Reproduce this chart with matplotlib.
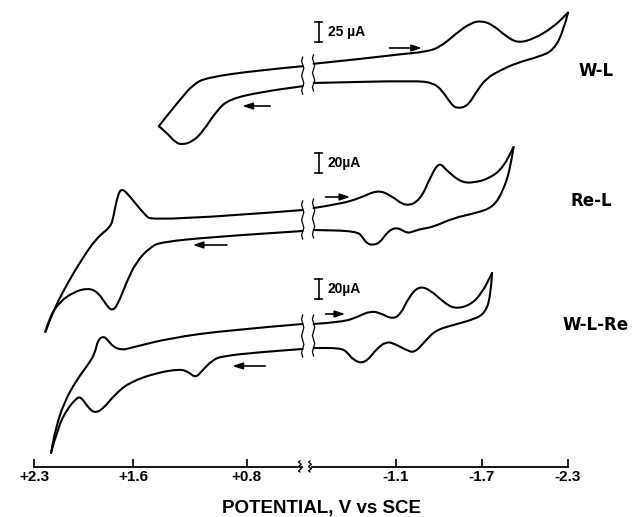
import numpy as np
import matplotlib
matplotlib.use('Agg')
from matplotlib import pyplot as plt
from matplotlib.path import Path
from matplotlib.patches import PathPatch

plt.rcParams['font.family'] = ['Liberation Sans', 'DejaVu Sans']

# cyclic voltammograms, potential in V vs SCE, current in uA
# each scan is split at the axis break: left = positive side, right = negative side
wl_left_E = [0.405, 0.71, 1.08, 1.18, 1.27, 1.34, 1.42, 1.37, 1.30, 1.25, 1.18, 1.11, 1.01, 0.92, 0.69, 0.405]
wl_left_I = [11, 6, -3, -12, -31, -46, -64, -71, -85, -87, -83, -71, -44, -30, -21, -14]
wl_right_E = [-0.525, -0.90, -1.13, -1.31, -1.41, -1.52, -1.62, -1.70, -1.78, -1.87, -1.95, -2.06, -2.20, -2.30,
              -2.27, -2.20, -2.10, -1.94, -1.83, -1.73, -1.66, -1.60, -1.52, -1.48, -1.42, -1.36, -1.24, -0.525]
wl_right_I = [14, 21, 26, 29, 35, 52, 65, 68, 62, 48, 40, 45, 60, 78,
              56, 31, 23, 15, 6, -4, -21, -39, -42, -35, -19, -10, -7, -10]

rel_left_E = [0.405, 1.46, 1.53, 1.62, 1.68, 1.71, 1.74, 1.76, 1.86, 1.98, 2.09, 2.16, 2.22,
              2.19, 2.12, 2.02, 1.92, 1.85, 1.79, 1.75, 1.71, 1.65, 1.58, 1.48, 1.40, 1.04, 0.405]
rel_left_I = [10, -2, 7, 23, 32, 25, 3, -7, -18, -43, -70, -90, -112,
              -97, -82, -72, -68, -72, -85, -91, -85, -63, -42, -27, -22, -17, -11]
rel_right_E = [-0.525, -0.71, -0.85, -0.97, -1.06, -1.17, -1.27, -1.34, -1.40, -1.45, -1.55, -1.64, -1.76, -1.85, -1.92,
               -1.90, -1.85, -1.78, -1.66, -1.50, -1.36, -1.27, -1.21, -1.18, -1.14, -1.11, -1.07, -1.03, -0.99,
               -0.95, -0.90, -0.87, -0.83, -0.525]
rel_right_I = [12, 16, 22, 30, 25, 13, 20, 43, 58, 50, 38, 37, 42, 53, 73,
               53, 30, 13, 7, 2, -7, -9, -12, -13, -10, -8, -9, -14, -22,
               -25, -24, -18, -11, -10]

wlre_left_E = [0.405, 0.92, 1.34, 1.62, 1.68, 1.74, 1.78, 1.81, 1.85, 1.87, 1.91, 2.00, 2.09, 2.15, 2.18,
               2.13, 2.07, 2.00, 1.97, 1.93, 1.88, 1.82, 1.72, 1.62, 1.44, 1.27, 1.21, 1.16, 1.11, 1.04, 0.97, 0.69, 0.405]
wlre_left_I = [12, 6, -2, -12, -14, -11, -4, 0, -4, -17, -27, -44, -67, -94, -117,
               -91, -74, -62, -61, -69, -77, -74, -57, -46, -37, -33, -36, -42, -34, -24, -20, -16, -13]
wlre_right_E = [-0.525, -0.73, -0.83, -0.92, -0.99, -1.07, -1.13, -1.19, -1.26, -1.34, -1.43, -1.51, -1.62, -1.70, -1.77,
                -1.76, -1.72, -1.65, -1.50, -1.38, -1.31, -1.23, -1.17, -1.08, -1.03, -0.97, -0.88, -0.80, -0.76, -0.71, -0.525]
wlre_right_I = [12, 14, 19, 25, 23, 17, 21, 39, 50, 46, 34, 27, 31, 43, 63,
                39, 23, 17, 11, 6, -4, -17, -14, -7, -6, -12, -28, -24, -16, -12, -12]

names = ['W-L', 'Re-L', 'W-L-Re']
scale_uA = [25, 20, 20]

left_ticks = [2.3, 1.6, 0.8]
left_labels = ['+2.3', '+1.6', '+0.8']
right_ticks = [-1.1, -1.7, -2.3]
right_labels = ['-1.1', '-1.7', '-2.3']

# drawing layout (vertical stacking of the three scans)
offsets = [392, 247, 131]
gains = [0.8, 1.0, 1.0]
bar_y = [33, 47, 37]
label_pos = [(-2.37, 4), (-2.315, 19), (-2.265, 11.5)]
arrow_r = [(-1.035, -1.30, 27), (-0.59, -0.80, 23), (-0.59, -0.765, 22)]
arrow_l = [(0.615, 0.85, -31), (0.92, 1.20, -25), (0.65, 0.92, -30)]

fig = plt.figure(figsize=(6.38, 5.17), dpi=100)
axL = fig.add_axes([34 / 638, 50 / 517, 268 / 638, 467 / 517])
axR = fig.add_axes([312 / 638, 50 / 517, 256 / 638, 467 / 517])
axL.set_xlim(2.3, 0.41)
axR.set_xlim(-0.514, -2.3)
for ax in (axL, axR):
    ax.set_ylim(0, 467)
    ax.patch.set_visible(False)
    for s in ('top', 'left', 'right'):
        ax.spines[s].set_visible(False)
    ax.spines['bottom'].set_linewidth(1.3)
    ax.set_yticks([])
    ax.tick_params(axis='x', direction='in', length=6, width=1.2, pad=2, labelsize=11)
axL.set_xticks(left_ticks)
axL.set_xticklabels(left_labels, fontweight='bold')
axR.set_xticks(right_ticks)
axR.set_xticklabels(right_labels, fontweight='bold')


def smooth_curve(ax, xs, ys):
    # quadratic bezier through midpoints, read points act as control points
    pts = np.column_stack([xs, ys])
    verts = [pts[0]]
    codes = [Path.MOVETO]
    for i in range(1, len(pts) - 1):
        verts += [pts[i], (pts[i] + pts[i + 1]) / 2]
        codes += [Path.CURVE3, Path.CURVE3]
    verts.append(pts[-1])
    codes.append(Path.LINETO)
    ax.add_patch(PathPatch(Path(verts, codes), fill=False, edgecolor='black', lw=1.5,
                           joinstyle='round', capstyle='round', clip_on=False))


def draw_scan(ax, xs, ys, left):
    # keep the switching point sharp
    tip = int(np.argmax(xs)) if left else int(np.argmin(xs))
    smooth_curve(ax, xs[:tip + 1], ys[:tip + 1])
    smooth_curve(ax, xs[tip:], ys[tip:])


def wiggle(ax, x, y0, y1, amp=0.008):
    ys = np.linspace(y0, y1, 11)
    xs = x + amp * np.array([0, 1, 0, -1, 0, 1, 0, -1, 0, 1, 0])
    ax.plot(xs, ys, color='black', lw=0.9, clip_on=False)


traces = [(wl_left_E, wl_left_I, wl_right_E, wl_right_I),
          (rel_left_E, rel_left_I, rel_right_E, rel_right_I),
          (wlre_left_E, wlre_left_I, wlre_right_E, wlre_right_I)]

for k, (eL, iL, eR, iR) in enumerate(traces):
    off, g = offsets[k], gains[k]
    yL = off + g * np.array(iL)
    yR = off + g * np.array(iR)
    draw_scan(axL, np.array(eL), yL, True)
    draw_scan(axR, np.array(eR), yR, False)
    # break marks across the two branches
    wiggle(axL, eL[0], max(yL[0], yL[-1]) + 9, min(yL[0], yL[-1]) - 8)
    wiggle(axR, eR[0], max(yR[0], yR[-1]) + 9, min(yR[0], yR[-1]) - 8)
    # current scale bar
    b0 = off + bar_y[k]
    b1 = b0 + g * scale_uA[k]
    axR.plot([-0.56, -0.56], [b0, b1], color='black', lw=1.2)
    axR.plot([-0.535, -0.585], [b0, b0], color='black', lw=1.2)
    axR.plot([-0.535, -0.585], [b1, b1], color='black', lw=1.2)
    axR.text(-0.625, (b0 + b1) / 2, '%d µA' % scale_uA[k] if k == 0 else '%dµA' % scale_uA[k],
             ha='left', va='center', fontsize=10, fontweight='bold')
    # scan direction arrows
    a0, a1, ay = arrow_r[k]
    axR.annotate('', xy=(a1, off + ay), xytext=(a0, off + ay),
                 arrowprops=dict(arrowstyle='-|>,head_length=0.6,head_width=0.2', lw=1.2, color='black'))
    a0, a1, ay = arrow_l[k]
    axL.annotate('', xy=(a1, off + ay), xytext=(a0, off + ay),
                 arrowprops=dict(arrowstyle='-|>,head_length=0.6,head_width=0.2', lw=1.2, color='black'))
    lx, ly = label_pos[k]
    axR.text(lx, off + ly, names[k], ha='left', va='center', fontsize=12,
             fontweight='bold', family='DejaVu Sans', clip_on=False)

# break on the potential axis
wiggle(axL, 0.425, 6, -5, amp=0.01)
wiggle(axR, -0.50, 6, -5, amp=0.01)

fig.text(321 / 638, 1 - 508 / 517, 'POTENTIAL, V vs SCE', ha='center', va='center',
         fontsize=13.5, fontweight='bold')

fig.savefig('out.png', dpi=100)
